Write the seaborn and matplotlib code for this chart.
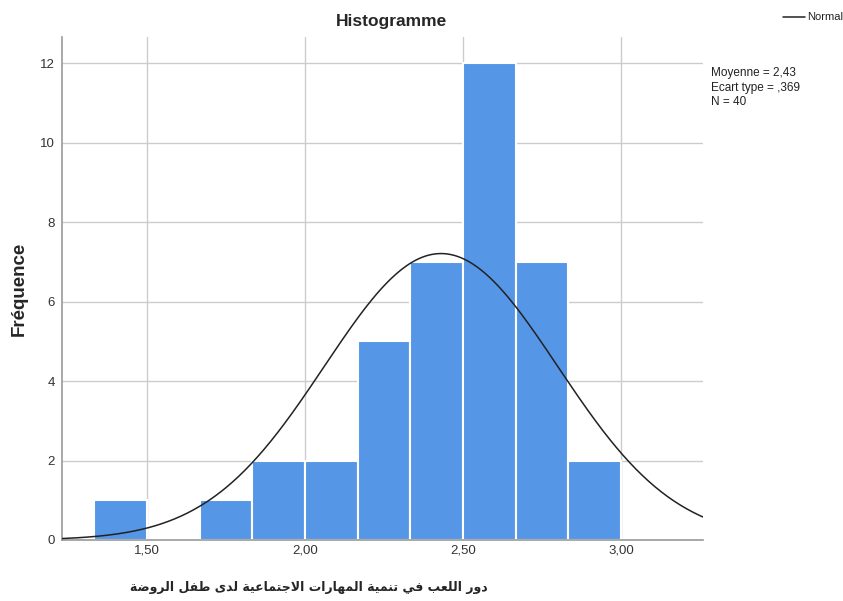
import numpy as np
import pandas as pd
import matplotlib
matplotlib.use("Agg")
import matplotlib.pyplot as plt
import seaborn as sns

# ---- data ----
bin_width = 1 / 6
bin_lefts = [1.3333, 1.5, 1.6667, 1.8333, 2.0, 2.1667, 2.3333, 2.5, 2.6667, 2.8333]
counts = [1, 0, 1, 2, 2, 5, 7, 12, 7, 2]
mean_val = 2.43
sd_val = 0.369
n_val = 40
x_ticks = [1.5, 2.0, 2.5, 3.0]
x_tick_labels = ["1,50", "2,00", "2,50", "3,00"]
y_ticks = [0, 2, 4, 6, 8, 10, 12]
title = "Histogramme"
ylabel = "Fréquence"
xlabel_ar = "دور اللعب في تنمية المهارات الاجتماعية لدى طفل الروضة"
stats_text = "Moyenne = 2,43\nEcart type = ,369\nN = 40"

# ---- minimal Arabic shaping (presentation forms) ----
FORMS = {
    'ا': (0xFE8D, 0xFE8E, None, None),
    'ب': (0xFE8F, 0xFE90, 0xFE91, 0xFE92),
    'ة': (0xFE93, 0xFE94, None, None),
    'ت': (0xFE95, 0xFE96, 0xFE97, 0xFE98),
    'ج': (0xFE9D, 0xFE9E, 0xFE9F, 0xFEA0),
    'د': (0xFEA9, 0xFEAA, None, None),
    'ر': (0xFEAD, 0xFEAE, None, None),
    'و': (0xFEED, 0xFEEE, None, None),
    'ض': (0xFEBD, 0xFEBE, 0xFEBF, 0xFEC0),
    'ط': (0xFEC1, 0xFEC2, 0xFEC3, 0xFEC4),
    'ع': (0xFEC9, 0xFECA, 0xFECB, 0xFECC),
    'ف': (0xFED1, 0xFED2, 0xFED3, 0xFED4),
    'ل': (0xFEDD, 0xFEDE, 0xFEDF, 0xFEE0),
    'م': (0xFEE1, 0xFEE2, 0xFEE3, 0xFEE4),
    'ن': (0xFEE5, 0xFEE6, 0xFEE7, 0xFEE8),
    'ه': (0xFEE9, 0xFEEA, 0xFEEB, 0xFEEC),
    'ي': (0xFEF1, 0xFEF2, 0xFEF3, 0xFEF4),
    'ى': (0xFEEF, 0xFEF0, None, None),
}


def shape_ar(text):
    chars = []
    i = 0
    while i < len(text):
        if text[i] == 'ل' and i + 1 < len(text) and text[i + 1] == 'ا':
            chars.append('LA')
            i += 2
        else:
            chars.append(text[i])
            i += 1

    def dual(c):
        return c in FORMS and FORMS[c][2] is not None

    def letter(c):
        return c in FORMS or c == 'LA'

    out = []
    for k, c in enumerate(chars):
        prev = chars[k - 1] if k > 0 else None
        nxt = chars[k + 1] if k + 1 < len(chars) else None
        pj = prev is not None and dual(prev)
        if c == 'LA':
            out.append(chr(0xFEFC if pj else 0xFEFB))
            continue
        if c not in FORMS:
            out.append(c)
            continue
        nj = dual(c) and nxt is not None and letter(nxt)
        iso, fin, ini, med = FORMS[c]
        if pj and nj:
            out.append(chr(med))
        elif pj:
            out.append(chr(fin))
        elif nj:
            out.append(chr(ini))
        else:
            out.append(chr(iso))
    return "".join(out)[::-1]


# ---- figure ----
sns.set_theme(style="white")
plt.rcParams['font.family'] = ['Liberation Sans', 'DejaVu Sans']

fig = plt.figure(figsize=(8.43, 6.01), dpi=100)
ax = fig.add_axes([0.0735, 0.1015, 0.7605, 0.8365])

centers = [l + bin_width / 2 for l in bin_lefts]
edges = bin_lefts + [bin_lefts[-1] + bin_width]
df = pd.DataFrame({"x": centers, "w": counts})
sns.histplot(data=df, x="x", weights="w", bins=edges, ax=ax,
             color="#5596e6", alpha=1.0, edgecolor="white", linewidth=1.5,
             zorder=2)

xmin, xmax = 1.231, 3.259
xs = np.linspace(xmin, xmax, 400)
ys = n_val * bin_width / (sd_val * np.sqrt(2 * np.pi)) * np.exp(-0.5 * ((xs - mean_val) / sd_val) ** 2)
sns.lineplot(x=xs, y=ys, ax=ax, color="#222222", linewidth=1.1, zorder=3)

ax.set_xlim(xmin, xmax)
ax.set_ylim(0, 12.65)
ax.set_xticks(x_ticks)
ax.set_xticklabels(x_tick_labels)
ax.set_yticks(y_ticks)
ax.tick_params(axis="both", length=0, labelsize=9.5, colors="#333333")
ax.tick_params(axis="x", pad=3)
ax.tick_params(axis="y", pad=5)
ax.grid(True, color="#cccccc", linewidth=1.0, zorder=0)
ax.set_axisbelow(True)
for s in ["top", "right"]:
    ax.spines[s].set_visible(False)
for s in ["left", "bottom"]:
    ax.spines[s].set_color("#999999")
    ax.spines[s].set_linewidth(1.2)

ax.set_ylabel(ylabel, fontsize=13.5, fontweight="bold", labelpad=9)
ax.set_xlabel("")
fig.text(0.366, 0.022, shape_ar(xlabel_ar), ha="center", va="center",
         fontsize=9, fontweight="bold", family=["DejaVu Sans"])
fig.text(0.464, 0.965, title, ha="center", va="center", fontsize=12.5,
         fontweight="bold")

# legend and stats
fig.add_artist(matplotlib.lines.Line2D([0.929, 0.955], [0.971, 0.971],
                                       color="#222222", linewidth=1.1,
                                       transform=fig.transFigure))
fig.text(0.957, 0.971, "Normal", ha="left", va="center", fontsize=8,
         color="#222222")
fig.text(0.843, 0.888, stats_text, ha="left", va="top", fontsize=8.5,
         color="#222222", linespacing=1.25)

fig.savefig("out.png", dpi=100, facecolor="white")
